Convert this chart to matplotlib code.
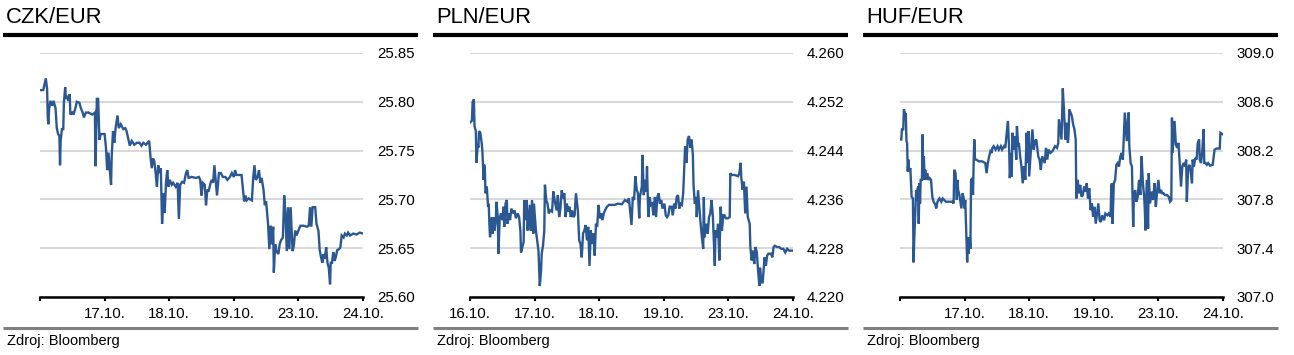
import matplotlib
matplotlib.use("Agg")
import matplotlib.pyplot as plt
from matplotlib.lines import Line2D

plt.rcParams['font.family'] = ['Liberation Sans', 'DejaVu Sans']

# ---- data (time in trading days from 16.10., value of the rate) ----
czk_t = [0.00, 0.05, 0.07, 0.09, 0.11, 0.12, 0.13, 0.14, 0.16, 0.19, 0.21, 0.23, 0.24, 0.26, 0.28,
         0.30, 0.31, 0.32, 0.34, 0.36, 0.37, 0.39, 0.40, 0.42, 0.44, 0.46, 0.47, 0.50, 0.52, 0.55,
         0.57, 0.61, 0.63, 0.66, 0.68, 0.71, 0.75, 0.81, 0.85, 0.86, 0.88, 0.90, 0.92, 0.94, 0.97,
         1.00, 1.02, 1.04, 1.06, 1.08, 1.10, 1.11, 1.13, 1.15, 1.17, 1.20, 1.22, 1.25, 1.29, 1.32,
         1.34, 1.37, 1.39, 1.42, 1.46, 1.50, 1.54, 1.57, 1.60, 1.64, 1.69, 1.71, 1.73, 1.75, 1.77,
         1.79, 1.81, 1.83, 1.85, 1.87, 1.89, 1.91, 1.93, 1.95, 1.97, 1.99, 2.01, 2.04, 2.06, 2.10,
         2.13, 2.15, 2.17, 2.20, 2.23, 2.26, 2.28, 2.30, 2.35, 2.41, 2.46, 2.48, 2.50, 2.52, 2.55,
         2.57, 2.59, 2.61, 2.64, 2.66, 2.68, 2.70, 2.72, 2.74, 2.77, 2.80, 2.83, 2.87, 2.90, 2.94,
         2.97, 3.00, 3.02, 3.04, 3.07, 3.12, 3.16, 3.18, 3.20, 3.23, 3.28, 3.30, 3.32, 3.34, 3.37,
         3.39, 3.41, 3.43, 3.46, 3.48, 3.50, 3.53, 3.55, 3.57, 3.59, 3.61, 3.62, 3.64, 3.66, 3.69,
         3.71, 3.73, 3.76, 3.78, 3.80, 3.82, 3.84, 3.86, 3.88, 3.91, 3.93, 3.95, 3.97, 4.00, 4.03,
         4.08, 4.13, 4.16, 4.18, 4.20, 4.22, 4.26, 4.28, 4.31, 4.33, 4.35, 4.37, 4.39, 4.41, 4.43,
         4.45, 4.47, 4.49, 4.50, 4.52, 4.54, 4.56, 4.58, 4.60, 4.63, 4.65, 4.67, 4.70, 4.72, 4.75,
         4.77, 4.80, 4.85, 4.90, 4.95, 5.00]
czk_v = [25.812, 25.812, 25.818, 25.824, 25.813, 25.784, 25.777, 25.792, 25.801, 25.796, 25.801, 25.796, 25.794, 25.773, 25.767,
         25.765, 25.735, 25.761, 25.772, 25.772, 25.799, 25.815, 25.803, 25.806, 25.801, 25.808, 25.787, 25.789, 25.787, 25.794,
         25.800, 25.799, 25.794, 25.789, 25.784, 25.789, 25.789, 25.787, 25.789, 25.734, 25.803, 25.803, 25.761, 25.767, 25.767,
         25.767, 25.754, 25.730, 25.748, 25.730, 25.715, 25.744, 25.770, 25.758, 25.773, 25.786, 25.773, 25.777, 25.772, 25.773,
         25.770, 25.761, 25.755, 25.760, 25.756, 25.758, 25.758, 25.755, 25.758, 25.756, 25.760, 25.744, 25.732, 25.742, 25.739,
         25.727, 25.713, 25.735, 25.727, 25.732, 25.675, 25.706, 25.686, 25.717, 25.730, 25.713, 25.720, 25.715, 25.717, 25.713,
         25.717, 25.680, 25.715, 25.718, 25.717, 25.727, 25.730, 25.722, 25.723, 25.722, 25.723, 25.720, 25.704, 25.717, 25.715,
         25.694, 25.710, 25.708, 25.717, 25.720, 25.717, 25.735, 25.720, 25.704, 25.727, 25.727, 25.723, 25.723, 25.720, 25.723,
         25.727, 25.723, 25.730, 25.725, 25.725, 25.725, 25.698, 25.704, 25.699, 25.701, 25.699, 25.722, 25.735, 25.720, 25.723,
         25.730, 25.717, 25.722, 25.710, 25.694, 25.698, 25.675, 25.649, 25.673, 25.654, 25.672, 25.625, 25.654, 25.647, 25.644,
         25.654, 25.658, 25.661, 25.704, 25.685, 25.647, 25.692, 25.649, 25.692, 25.647, 25.653, 25.668, 25.663, 25.668, 25.673,
         25.673, 25.672, 25.673, 25.692, 25.672, 25.692, 25.692, 25.675, 25.668, 25.648, 25.641, 25.635, 25.644, 25.639, 25.651,
         25.635, 25.630, 25.613, 25.635, 25.635, 25.646, 25.637, 25.641, 25.648, 25.649, 25.651, 25.663, 25.661, 25.665, 25.663,
         25.666, 25.663, 25.665, 25.664, 25.666, 25.665]

pln_t = [0.00, 0.03, 0.04, 0.06, 0.07, 0.09, 0.10, 0.12, 0.13, 0.14, 0.16, 0.18, 0.19, 0.20, 0.21,
         0.22, 0.23, 0.24, 0.26, 0.27, 0.28, 0.29, 0.30, 0.31, 0.34, 0.35, 0.37, 0.38, 0.40, 0.41,
         0.43, 0.44, 0.46, 0.48, 0.50, 0.52, 0.53, 0.55, 0.57, 0.58, 0.60, 0.62, 0.64, 0.67, 0.69,
         0.71, 0.74, 0.76, 0.78, 0.79, 0.81, 0.83, 0.84, 0.86, 0.88, 0.89, 0.91, 0.93, 0.94, 0.96,
         0.98, 0.99, 1.02, 1.04, 1.06, 1.08, 1.10, 1.11, 1.13, 1.15, 1.16, 1.18, 1.20, 1.22, 1.24,
         1.27, 1.29, 1.31, 1.34, 1.36, 1.38, 1.40, 1.42, 1.44, 1.46, 1.48, 1.50, 1.52, 1.54, 1.56,
         1.58, 1.60, 1.62, 1.64, 1.67, 1.69, 1.71, 1.73, 1.75, 1.77, 1.79, 1.81, 1.83, 1.85, 1.87,
         1.89, 1.91, 1.93, 1.95, 1.97, 1.99, 2.01, 2.03, 2.05, 2.07, 2.09, 2.12, 2.15, 2.19, 2.24,
         2.29, 2.35, 2.40, 2.44, 2.46, 2.48, 2.50, 2.52, 2.54, 2.56, 2.58, 2.60, 2.62, 2.63, 2.66,
         2.67, 2.69, 2.71, 2.73, 2.74, 2.76, 2.78, 2.80, 2.82, 2.84, 2.86, 2.88, 2.90, 2.92, 2.94,
         2.96, 2.98, 3.01, 3.03, 3.05, 3.07, 3.09, 3.12, 3.14, 3.16, 3.18, 3.20, 3.22, 3.24, 3.26,
         3.28, 3.30, 3.33, 3.35, 3.37, 3.39, 3.41, 3.43, 3.45, 3.46, 3.48, 3.50, 3.51, 3.53, 3.55,
         3.57, 3.59, 3.61, 3.62, 3.63, 3.66, 3.68, 3.70, 3.72, 3.74, 3.76, 3.78, 3.79, 3.80, 3.82,
         3.84, 3.86, 3.88, 3.90, 3.92, 3.94, 3.96, 3.99, 4.02, 4.03, 4.05, 4.10, 4.15, 4.17, 4.19,
         4.20, 4.22, 4.24, 4.26, 4.28, 4.30, 4.33, 4.34, 4.36, 4.38, 4.40, 4.42, 4.44, 4.46, 4.48,
         4.49, 4.51, 4.53, 4.56, 4.58, 4.60, 4.62, 4.66, 4.68, 4.70, 4.72, 4.75, 4.78, 4.82, 4.85,
         4.88, 4.91, 4.94, 4.97, 5.00]
pln_v = [4.2486, 4.2489, 4.2519, 4.2524, 4.2480, 4.2472, 4.2420, 4.2450, 4.2445, 4.2472, 4.2469, 4.2453, 4.2442, 4.2420, 4.2392,
         4.2417, 4.2409, 4.2370, 4.2381, 4.2365, 4.2348, 4.2353, 4.2320, 4.2298, 4.2331, 4.2304, 4.2331, 4.2309, 4.2326, 4.2356,
         4.2331, 4.2271, 4.2329, 4.2337, 4.2326, 4.2348, 4.2315, 4.2353, 4.2359, 4.2320, 4.2337, 4.2326, 4.2345, 4.2337, 4.2342,
         4.2329, 4.2337, 4.2331, 4.2309, 4.2273, 4.2282, 4.2290, 4.2359, 4.2326, 4.2359, 4.2309, 4.2331, 4.2351, 4.2309, 4.2359,
         4.2304, 4.2353, 4.2309, 4.2293, 4.2276, 4.2218, 4.2243, 4.2271, 4.2284, 4.2309, 4.2384, 4.2359, 4.2353, 4.2337, 4.2342,
         4.2340, 4.2373, 4.2359, 4.2342, 4.2367, 4.2331, 4.2345, 4.2375, 4.2362, 4.2370, 4.2331, 4.2353, 4.2340, 4.2348, 4.2331,
         4.2342, 4.2331, 4.2334, 4.2370, 4.2342, 4.2293, 4.2287, 4.2265, 4.2304, 4.2309, 4.2318, 4.2293, 4.2315, 4.2251, 4.2309,
         4.2287, 4.2304, 4.2268, 4.2320, 4.2318, 4.2351, 4.2329, 4.2337, 4.2326, 4.2337, 4.2342, 4.2348, 4.2351, 4.2351, 4.2351,
         4.2353, 4.2352, 4.2359, 4.2356, 4.2362, 4.2340, 4.2318, 4.2364, 4.2359, 4.2398, 4.2376, 4.2370, 4.2329, 4.2364, 4.2381,
         4.2433, 4.2367, 4.2392, 4.2373, 4.2414, 4.2331, 4.2364, 4.2351, 4.2353, 4.2334, 4.2364, 4.2331, 4.2364, 4.2370, 4.2353,
         4.2359, 4.2345, 4.2353, 4.2334, 4.2331, 4.2334, 4.2348, 4.2348, 4.2334, 4.2353, 4.2345, 4.2364, 4.2367, 4.2345, 4.2353,
         4.2351, 4.2370, 4.2447, 4.2420, 4.2458, 4.2464, 4.2445, 4.2458, 4.2433, 4.2384, 4.2353, 4.2364, 4.2331, 4.2375, 4.2348,
         4.2320, 4.2298, 4.2279, 4.2364, 4.2298, 4.2320, 4.2304, 4.2331, 4.2337, 4.2359, 4.2331, 4.2276, 4.2251, 4.2309, 4.2298,
         4.2320, 4.2260, 4.2348, 4.2309, 4.2334, 4.2334, 4.2329, 4.2329, 4.2331, 4.2403, 4.2400, 4.2400, 4.2398, 4.2403, 4.2420,
         4.2395, 4.2376, 4.2389, 4.2337, 4.2381, 4.2331, 4.2320, 4.2282, 4.2260, 4.2276, 4.2254, 4.2282, 4.2273, 4.2243, 4.2218,
         4.2248, 4.2224, 4.2224, 4.2265, 4.2251, 4.2268, 4.2271, 4.2271, 4.2265, 4.2282, 4.2284, 4.2282, 4.2282, 4.2279, 4.2279,
         4.2273, 4.2279, 4.2276, 4.2276, 4.2276]

huf_t = [0.00, 0.02, 0.03, 0.05, 0.06, 0.08, 0.09, 0.10, 0.11, 0.12, 0.13, 0.14, 0.16, 0.18, 0.20,
         0.21, 0.22, 0.24, 0.25, 0.26, 0.27, 0.28, 0.29, 0.30, 0.31, 0.32, 0.33, 0.34, 0.35, 0.36,
         0.37, 0.38, 0.39, 0.41, 0.42, 0.44, 0.46, 0.48, 0.50, 0.52, 0.55, 0.56, 0.58, 0.61, 0.64,
         0.66, 0.71, 0.76, 0.81, 0.83, 0.84, 0.86, 0.88, 0.89, 0.90, 0.92, 0.95, 0.97, 0.99, 1.00,
         1.01, 1.03, 1.04, 1.05, 1.06, 1.07, 1.08, 1.09, 1.10, 1.12, 1.13, 1.14, 1.15, 1.16, 1.18,
         1.22, 1.27, 1.32, 1.34, 1.36, 1.38, 1.40, 1.42, 1.43, 1.45, 1.48, 1.51, 1.53, 1.56, 1.58,
         1.61, 1.63, 1.67, 1.69, 1.70, 1.72, 1.73, 1.74, 1.76, 1.78, 1.80, 1.81, 1.83, 1.84, 1.86,
         1.88, 1.90, 1.92, 1.94, 1.96, 1.98, 1.99, 2.00, 2.03, 2.05, 2.07, 2.09, 2.11, 2.14, 2.16,
         2.18, 2.20, 2.22, 2.24, 2.26, 2.28, 2.30, 2.33, 2.36, 2.40, 2.43, 2.45, 2.46, 2.48, 2.50,
         2.51, 2.52, 2.54, 2.56, 2.58, 2.60, 2.61, 2.62, 2.64, 2.66, 2.68, 2.70, 2.72, 2.73, 2.75,
         2.77, 2.79, 2.81, 2.83, 2.85, 2.87, 2.89, 2.91, 2.93, 2.95, 2.97, 2.99, 3.01, 3.03, 3.05,
         3.07, 3.09, 3.11, 3.13, 3.16, 3.18, 3.21, 3.23, 3.26, 3.27, 3.28, 3.29, 3.31, 3.33, 3.35,
         3.37, 3.39, 3.41, 3.43, 3.45, 3.47, 3.48, 3.51, 3.53, 3.54, 3.55, 3.57, 3.59, 3.61, 3.62,
         3.64, 3.66, 3.68, 3.70, 3.72, 3.74, 3.76, 3.78, 3.79, 3.80, 3.82, 3.84, 3.85, 3.87, 3.90,
         3.92, 3.94, 3.96, 3.98, 4.00, 4.02, 4.04, 4.06, 4.08, 4.10, 4.13, 4.16, 4.18, 4.20, 4.21,
         4.22, 4.25, 4.27, 4.29, 4.31, 4.33, 4.35, 4.37, 4.39, 4.41, 4.43, 4.44, 4.46, 4.48, 4.50,
         4.52, 4.53, 4.55, 4.57, 4.59, 4.61, 4.63, 4.64, 4.66, 4.68, 4.70, 4.71, 4.73, 4.75, 4.77,
         4.80, 4.84, 4.87, 4.90, 4.95, 4.96, 5.00]
huf_v = [308.291, 308.291, 308.374, 308.374, 308.539, 308.498, 308.498, 308.277, 308.263, 308.029, 308.126, 308.029, 308.057, 307.822, 307.808,
         307.284, 307.463, 307.739, 307.877, 307.795, 307.877, 307.905, 307.601, 307.932, 307.767, 307.960, 307.960, 307.960, 308.332, 307.960,
         308.153, 307.960, 308.043, 307.960, 308.015, 307.960, 307.974, 307.960, 307.822, 307.781, 307.753, 307.726, 307.781, 307.808, 307.781,
         307.808, 307.781, 307.781, 307.781, 307.767, 308.043, 308.015, 307.795, 307.960, 307.877, 307.836, 307.726, 307.850, 307.795, 307.726,
         307.795, 307.463, 307.284, 307.491, 307.353, 307.463, 307.491, 307.395, 307.960, 307.974, 307.836, 308.098, 308.291, 308.126, 308.126,
         308.112, 308.112, 308.098, 308.015, 308.098, 308.153, 308.195, 308.181, 308.222, 308.236, 308.208, 308.236, 308.208, 308.236, 308.208,
         308.236, 308.222, 308.443, 308.208, 307.974, 308.181, 307.988, 308.346, 308.208, 308.319, 308.126, 308.401, 308.236, 308.263, 308.153,
         308.070, 307.932, 308.070, 307.960, 308.346, 308.098, 308.360, 307.988, 308.236, 308.374, 308.208, 308.277, 308.291, 308.153, 308.126,
         308.043, 308.153, 308.126, 308.098, 308.222, 308.126, 308.208, 308.181, 308.195, 308.236, 308.222, 308.263, 308.457, 308.374, 308.291,
         308.512, 308.710, 308.512, 308.291, 308.429, 308.263, 308.346, 308.539, 308.512, 308.484, 308.415, 308.374, 308.291, 307.808, 307.960,
         307.850, 307.919, 307.822, 307.836, 307.905, 307.864, 307.932, 307.808, 307.891, 307.712, 307.767, 307.657, 307.739, 307.601, 307.684,
         307.767, 307.629, 307.615, 307.670, 307.629, 307.684, 307.670, 307.684, 307.657, 307.905, 307.932, 307.601, 307.932, 307.960, 308.084,
         308.098, 308.070, 308.153, 308.181, 308.126, 308.374, 308.512, 308.277, 308.457, 308.512, 308.236, 308.098, 308.070, 307.574, 307.822,
         307.877, 307.781, 307.822, 307.960, 307.836, 308.153, 307.932, 307.822, 307.712, 307.546, 307.960, 307.560, 308.015, 307.767, 307.864,
         307.795, 307.932, 307.739, 307.864, 307.960, 307.850, 307.877, 307.850, 307.850, 307.836, 307.836, 307.822, 307.781, 307.795, 308.470,
         308.181, 308.443, 308.250, 308.222, 308.263, 308.098, 307.905, 308.070, 308.098, 308.070, 308.126, 307.781, 308.057, 308.084, 308.029,
         307.932, 308.126, 308.070, 308.139, 308.126, 308.263, 308.291, 308.126, 308.098, 308.208, 308.374, 308.098, 308.098, 308.084, 308.098,
         308.076, 308.084, 308.208, 308.217, 308.217, 308.346, 308.332]

x_ticks = [0, 1, 2, 3, 4, 5]
x_labels_czk = ['', '17.10.', '18.10.', '19.10.', '23.10.', '24.10.']
x_labels_pln = ['16.10.', '17.10.', '18.10.', '19.10.', '23.10.', '24.10.']
x_labels_huf = ['', '17.10.', '18.10.', '19.10.', '23.10.', '24.10.']

czk_yticks = [25.60, 25.65, 25.70, 25.75, 25.80, 25.85]
pln_yticks = [4.220, 4.228, 4.236, 4.244, 4.252, 4.260]
huf_yticks = [307.0, 307.4, 307.8, 308.2, 308.6, 309.0]

panels = [
    ('CZK/EUR', czk_t, czk_v, czk_yticks, '{:.2f}', x_labels_czk),
    ('PLN/EUR', pln_t, pln_v, pln_yticks, '{:.3f}', x_labels_pln),
    ('HUF/EUR', huf_t, huf_v, huf_yticks, '{:.1f}', x_labels_huf),
]

W, H = 1294, 355
fig = plt.figure(figsize=(W / 100, H / 100), dpi=100)
line_color = '#2b5893'

offsets = [0, 430, 860]
for (title, t, v, yt, fmt, xl), off in zip(panels, offsets):
    ax = fig.add_axes([(off + 40) / W, (H - 297) / H, 323 / W, 244 / H])
    ax.plot(t, v, color=line_color, lw=1.7, solid_joinstyle='miter')
    ax.set_xlim(0, 5)
    ax.set_ylim(yt[0], yt[-1])
    ax.set_yticks(yt)
    ax.set_yticklabels([fmt.format(y) for y in yt])
    ax.yaxis.tick_right()
    ax.tick_params(axis='y', length=0, pad=10, labelsize=10.8)
    ax.set_xticks(x_ticks)
    ax.set_xticklabels(xl)
    ax.tick_params(axis='x', direction='out', length=3, width=1.5, pad=4, labelsize=10.8)
    for s in ['top', 'left', 'right']:
        ax.spines[s].set_visible(False)
    ax.spines['bottom'].set_linewidth(1.8)
    ax.grid(axis='y', color='#d9d9d9', lw=1.5)
    ax.set_axisbelow(True)

    # title, rules and source
    fig.text((off + 6) / W, 1 - 23 / H, title, fontsize=15.8, ha='left', va='baseline')
    fig.add_artist(Line2D([(off + 3) / W, (off + 418) / W], [1 - 35 / H, 1 - 35 / H],
                          color='black', lw=3, solid_capstyle='butt'))
    fig.add_artist(Line2D([(off + 3) / W, (off + 418) / W], [1 - 327.5 / H, 1 - 327.5 / H],
                          color='#808080', lw=2.2, solid_capstyle='butt'))
    fig.text((off + 7) / W, 1 - 345 / H, 'Zdroj: Bloomberg', fontsize=10.5, ha='left', va='baseline')

fig.savefig('out.png', dpi=100)
